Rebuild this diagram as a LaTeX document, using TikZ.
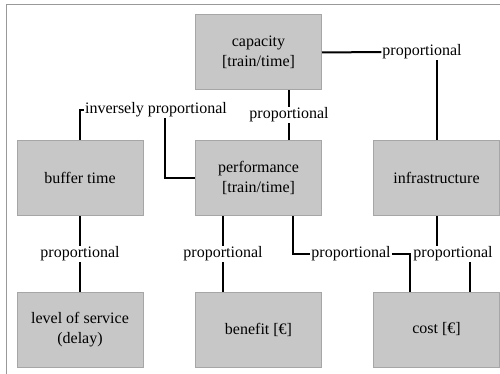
\documentclass[tikz,border=0pt]{standalone}
\usepackage{fontspec}
\setmainfont{Liberation Serif}
\usetikzlibrary{calc}

\begin{document}
\begin{tikzpicture}[x=1pt,y=-1pt,
     box/.style = {draw=black!35, fill=black!22, line width=1pt, minimum width=126pt,
      minimum height=75pt, align=center, inner sep=2pt,
      font=\fontsize{16}{20}\selectfont},
     lab/.style = {inner sep=1pt, font=\fontsize{16}{18}\selectfont},
     link/.style = {draw, line width=2pt}
    ]
    \useasboundingbox (0,0) rectangle (500,374);
    \draw[black!40, line width=1.5pt] (6.5,374) -- (6.5,4.5) -- (500,4.5);

    \node [box] (cap) at (258.5,52.5) {capacity\\{[}train/time{]}};
    \node [box] (buf) at (80,178) {buffer time};
    \node [box] (perf) at (258.5,178) {performance\\{[}train/time{]}};
    \node [box] (infra) at (436.5,178) {infrastructure};
    \node [box] (los) at (80,329.5) {level of service\\(delay)};
    \node [box] (ben) at (258.5,329.5) {benefit [\texteuro]};
    \node [box] (cost) at (436.5,329.5) {cost [\texteuro]};

    \node [lab] (capinfra) at (422,52) {proportional};
    \node [lab] (capperf) at (289,115) {proportional};
    \node [lab] (bufperf) at (156,110) {inversely proportional};
    \node [lab] (buflos) at (80,254) {proportional};
    \node [lab] (perfben) at (223,254) {proportional};
    \node [lab] (perfcost) at (351,254) {proportional};
    \node [lab] (infracost) at (453,254) {proportional};

    \draw[link] (cap.east) -- (capinfra.west);
    \draw[link] (capinfra.south -| infra.north) -- (infra.north);
    \draw[link] (capperf.north) -- (capperf.north |- cap.south);
    \draw[link] (capperf.south) -- (capperf.south |- perf.north);
    \draw[link] (buf.north) |- (bufperf.west);
    \draw[link] ($(bufperf.south)+(9,0)$) |- (perf.west);
    \draw[link] (buflos.north) -- (buflos.north |- buf.south);
    \draw[link] (buflos.south) -- (buflos.south |- los.north);
    \draw[link] (perfben.north) -- (perfben.north |- perf.south);
    \draw[link] (perfben.south) -- (perfben.south |- ben.north);
    \draw[link] ($(perf.south)+(34.5,0)$) |- (perfcost.west);
    \draw[link] (perfcost.east) -| ($(cost.north)+(-26.5,0)$);
    \draw[link] (infra.south) -- (infra.south |- infracost.north);
    \draw[link] ($(infracost.south)+(17,0)$) -- ($(cost.north)+(33.5,0)$);

\end{tikzpicture}
\end{document}
